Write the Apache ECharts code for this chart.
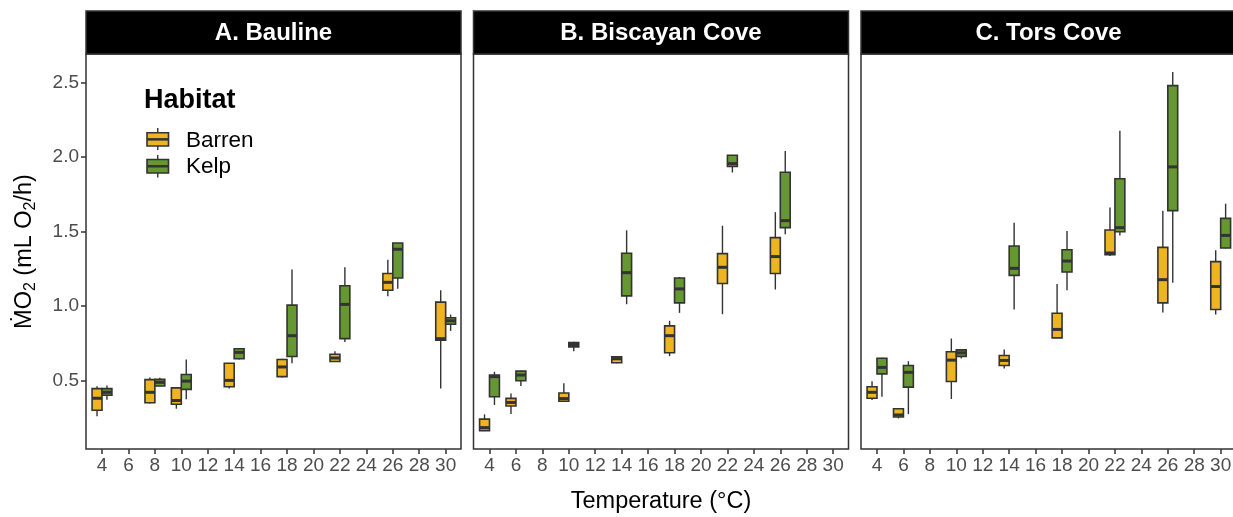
<!DOCTYPE html>
<html>
<head>
<meta charset="utf-8">
<title>Metabolic rate by temperature and habitat</title>
<script src="https://cdn.jsdelivr.net/npm/echarts@6.0.0/dist/echarts.min.js"></script>
<style>
  html, body { margin: 0; padding: 0; background: #ffffff; }
  #chart { width: 1233px; height: 517px; }
</style>
</head>
<body>
<div id="chart"></div>
<script>
// Sites (facet panels) and habitats
const siteNames = ['A. Bauline', 'B. Biscayan Cove', 'C. Tors Cove'];
const habitats = ['Barren', 'Kelp'];
const habitatColors = ['#EFB422', '#659833'];

// Axis ticks
const tempTicks = [4, 6, 8, 10, 12, 14, 16, 18, 20, 22, 24, 26, 28, 30];
const rateTicks = [0.5, 1.0, 1.5, 2.0, 2.5];

// Box summaries: [temperature, lower whisker, Q1, median, Q3, upper whisker]
const baulineBarren = [
  [4, 0.26, 0.30, 0.38, 0.445, 0.46],
  [8, 0.345, 0.35, 0.42, 0.505, 0.52],
  [10, 0.31, 0.34, 0.365, 0.45, 0.45],
  [14, 0.445, 0.457, 0.50, 0.615, 0.615],
  [18, 0.52, 0.525, 0.59, 0.64, 0.645],
  [22, 0.625, 0.627, 0.65, 0.675, 0.695],
  [26, 1.065, 1.105, 1.158, 1.217, 1.31],
  [30, 0.445, 0.77, 0.78, 1.025, 1.105]
];
const baulineKelp = [
  [4, 0.37, 0.40, 0.42, 0.445, 0.465],
  [8, 0.46, 0.462, 0.487, 0.507, 0.517],
  [10, 0.373, 0.44, 0.495, 0.54, 0.64],
  [14, 0.64, 0.645, 0.688, 0.712, 0.715],
  [18, 0.615, 0.66, 0.80, 1.005, 1.245],
  [22, 0.757, 0.78, 1.01, 1.135, 1.26],
  [26, 1.115, 1.187, 1.38, 1.422, 1.422],
  [30, 0.832, 0.877, 0.90, 0.92, 0.942]
];
const biscayanBarren = [
  [4, 0.16, 0.163, 0.183, 0.24, 0.272],
  [6, 0.274, 0.328, 0.352, 0.379, 0.412],
  [10, 0.356, 0.36, 0.378, 0.415, 0.48],
  [14, 0.615, 0.618, 0.645, 0.658, 0.66],
  [18, 0.663, 0.685, 0.80, 0.866, 0.90],
  [22, 0.944, 1.15, 1.259, 1.351, 1.538],
  [26, 1.11, 1.217, 1.331, 1.458, 1.629]
];
const biscayanKelp = [
  [4, 0.335, 0.39, 0.525, 0.536, 0.558],
  [6, 0.462, 0.498, 0.536, 0.562, 0.565],
  [10, 0.696, 0.725, 0.741, 0.754, 0.76],
  [14, 1.011, 1.067, 1.223, 1.353, 1.507],
  [18, 0.953, 1.02, 1.114, 1.187, 1.194],
  [22, 1.895, 1.935, 1.955, 2.011, 2.013],
  [26, 1.48, 1.525, 1.572, 1.897, 2.04]
];
const torsBarren = [
  [4, 0.368, 0.38, 0.42, 0.457, 0.495],
  [6, 0.245, 0.254, 0.268, 0.31, 0.312],
  [10, 0.375, 0.493, 0.636, 0.692, 0.781],
  [14, 0.58, 0.60, 0.634, 0.667, 0.708],
  [18, 0.783, 0.785, 0.842, 0.951, 1.147],
  [22, 1.335, 1.344, 1.355, 1.509, 1.661],
  [26, 0.955, 1.02, 1.176, 1.393, 1.639],
  [30, 0.942, 0.976, 1.13, 1.297, 1.373]
];
const torsKelp = [
  [4, 0.39, 0.544, 0.587, 0.649, 0.652],
  [6, 0.274, 0.455, 0.554, 0.60, 0.629],
  [10, 0.647, 0.661, 0.685, 0.705, 0.707],
  [14, 0.976, 1.205, 1.252, 1.402, 1.558],
  [18, 1.105, 1.227, 1.301, 1.377, 1.502],
  [22, 1.473, 1.498, 1.525, 1.853, 2.175],
  [26, 1.156, 1.639, 1.933, 2.478, 2.57],
  [30, 1.385, 1.388, 1.473, 1.587, 1.686]
];

const siteData = [
  [baulineBarren, baulineKelp],
  [biscayanBarren, biscayanKelp],
  [torsBarren, torsKelp]
];

// Panel layout
const FONT = '"Liberation Sans", Arial, Helvetica, sans-serif';
const panelLefts = [86, 473.5, 861];
const panelWidth = 375;
const panelTop = 54;
const panelHeight = 395;
const stripTop = 11;
const stripHeight = panelTop - stripTop;
const xMin = 2.79, xMax = 31.16;
const BOX_WIDTH = 0.75;   // width of each dodged box, in degrees
const INK = '#333333';

// y limits: data range expanded by 5% on each side
const allRows = siteData.flat(2);
const yLo = Math.min(...allRows.map(r => r[1]));
const yHi = Math.max(...allRows.map(r => r[5]));
const yPad = 0.05 * (yHi - yLo);

function boxRenderer(offset, color) {
  return function (params, api) {
    const x = api.value(0) + offset;
    const pLo = api.coord([x, api.value(1)]);
    const pQ1 = api.coord([x, api.value(2)]);
    const pMed = api.coord([x, api.value(3)]);
    const pQ3 = api.coord([x, api.value(4)]);
    const pHi = api.coord([x, api.value(5)]);
    const halfW = api.size([BOX_WIDTH, 0])[0] / 2;
    const cx = pMed[0];
    const lineStyle = { stroke: INK, lineWidth: 1.4 };
    return {
      type: 'group',
      children: [
        { type: 'line', shape: { x1: cx, y1: pHi[1], x2: cx, y2: pQ3[1] }, style: lineStyle },
        { type: 'line', shape: { x1: cx, y1: pQ1[1], x2: cx, y2: pLo[1] }, style: lineStyle },
        {
          type: 'rect',
          shape: { x: cx - halfW, y: pQ3[1], width: 2 * halfW, height: pQ1[1] - pQ3[1] },
          style: { fill: color, stroke: INK, lineWidth: 1.6 }
        },
        {
          type: 'line',
          shape: { x1: cx - halfW, y1: pMed[1], x2: cx + halfW, y2: pMed[1] },
          style: { stroke: INK, lineWidth: 3 }
        }
      ]
    };
  };
}

const grids = [], xAxes = [], yAxes = [], series = [], graphics = [];

siteNames.forEach((name, i) => {
  grids.push({
    left: panelLefts[i], top: panelTop, width: panelWidth, height: panelHeight,
    show: true, backgroundColor: '#ffffff', borderColor: INK, borderWidth: 1.5,
    containLabel: false, outerBoundsMode: 'none'
  });
  xAxes.push({
    type: 'value', gridIndex: i, min: xMin, max: xMax,
    axisLine: { show: false },
    splitLine: { show: false },
    axisTick: { show: true, customValues: tempTicks, length: 5, lineStyle: { color: INK, width: 1.5 } },
    axisLabel: { customValues: tempTicks, color: '#4D4D4D', fontSize: 19, fontFamily: FONT, margin: 7 },
    name: i === 1 ? 'Temperature (°C)' : '',
    nameLocation: 'middle', nameGap: 41,
    nameTextStyle: { color: '#000000', fontSize: 23.5, fontFamily: FONT }
  });
  yAxes.push({
    type: 'value', gridIndex: i, min: yLo - yPad, max: yHi + yPad,
    axisLine: { show: false },
    splitLine: { show: false },
    axisTick: { show: i === 0, customValues: rateTicks, length: 5, lineStyle: { color: INK, width: 1.5 } },
    axisLabel: {
      show: i === 0, customValues: rateTicks, color: '#4D4D4D', fontSize: 19, fontFamily: FONT, margin: 7,
      formatter: v => v.toFixed(1)
    },
    name: i === 0 ? '{m|ṀO}{s|2}{m| (mL O}{s|2}{m|/h)}' : '',
    nameLocation: 'middle', nameGap: 47, nameRotate: 90,
    nameTextStyle: {
      rich: {
        m: { fontSize: 23.5, fontFamily: FONT, color: '#000000', lineHeight: 28 },
        s: { fontSize: 16, fontFamily: FONT, color: '#000000', lineHeight: 16, verticalAlign: 'bottom' }
      }
    }
  });
  habitats.forEach((hab, h) => {
    series.push({
      type: 'custom',
      name: hab,
      xAxisIndex: i, yAxisIndex: i,
      data: siteData[i][h],
      encode: { x: 0, y: [1, 2, 3, 4, 5] },
      renderItem: boxRenderer(h === 0 ? -BOX_WIDTH / 2 : BOX_WIDTH / 2, habitatColors[h]),
      clip: true,
      silent: true
    });
  });
  // facet strip
  graphics.push({
    type: 'group',
    children: [
      {
        type: 'rect',
        shape: { x: panelLefts[i], y: stripTop, width: panelWidth, height: stripHeight },
        style: { fill: '#000000', stroke: INK, lineWidth: 1.5 }
      },
      {
        type: 'text',
        x: panelLefts[i] + panelWidth / 2, y: stripTop + stripHeight / 2 + 1,
        style: {
          text: name, fill: '#ffffff', font: 'bold 24px ' + FONT,
          align: 'center', verticalAlign: 'middle'
        }
      }
    ]
  });
});

// Habitat key inside the first panel
const keyX = 147, keyW = 21.5;
const keyRows = [
  { y: 132.7, h: 13.3, wTop: 128, wBot: 150, label: habitats[0], color: habitatColors[0] },
  { y: 159.5, h: 13.5, wTop: 155, wBot: 177.5, label: habitats[1], color: habitatColors[1] }
];
const keyChildren = [
  {
    type: 'text', x: 144, y: 101,
    style: { text: 'Habitat', fill: '#000000', font: 'bold 27px ' + FONT, align: 'left', verticalAlign: 'middle' }
  }
];
keyRows.forEach(k => {
  const cx = keyX + keyW / 2;
  keyChildren.push(
    { type: 'line', shape: { x1: cx, y1: k.wTop, x2: cx, y2: k.wBot }, style: { stroke: INK, lineWidth: 1.4 } },
    { type: 'rect', shape: { x: keyX, y: k.y, width: keyW, height: k.h }, style: { fill: k.color, stroke: INK, lineWidth: 1.6 } },
    { type: 'line', shape: { x1: keyX, y1: k.y + k.h / 2, x2: keyX + keyW, y2: k.y + k.h / 2 }, style: { stroke: INK, lineWidth: 2.5 } },
    {
      type: 'text', x: 186, y: k.y + k.h / 2 + 1,
      style: { text: k.label, fill: '#000000', font: '22.5px ' + FONT, align: 'left', verticalAlign: 'middle' }
    }
  );
});
graphics.push({ type: 'group', children: keyChildren, z: 100 });

const chart = echarts.init(document.getElementById('chart'), null, { renderer: 'canvas' });
chart.setOption({
  backgroundColor: '#ffffff',
  animation: false,
  grid: grids,
  xAxis: xAxes,
  yAxis: yAxes,
  series: series,
  graphic: graphics
});
</script>
</body>
</html>
